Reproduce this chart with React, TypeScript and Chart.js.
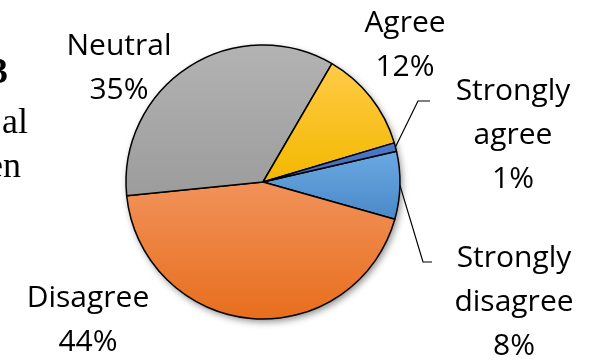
import React, { useEffect, useRef } from 'react';
import { Chart, registerables } from 'chart.js';

Chart.register(...registerables);

// ---- data ----
const categories = ['Strongly disagree', 'Disagree', 'Neutral', 'Agree', 'Strongly agree'];
const values = [8, 44, 35, 12, 1];
const labelNames = [['Strongly', 'disagree'], ['Disagree'], ['Neutral'], ['Agree'], ['Strongly', 'agree']];
const topColors = ['#6AA9E2', '#F1925A', '#B3B3B3', '#FFCB47', '#4D7ACB'];
const bottomColors = ['#4A89C8', '#E86E1D', '#9C9C9C', '#F3B800', '#3E69B8'];
const sideText = [
  { text: '3', x: 8, y: 83, bold: true },
  { text: 'al', x: 28, y: 133, bold: false },
  { text: 'en', x: 21, y: 177, bold: false },
];

// ---- layout (styling only) ----
const ROTATION = 77;
const RADIUS = 137;
const labelPos = [
  { x: 514, y: 267 },
  { x: 88, y: 307 },
  { x: 119, y: 55 },
  { x: 405, y: 32 },
  { x: 513, y: 100 },
];
const leaderElbows: Record<number, number[][]> = {
  0: [[423, 262], [432, 262]],
  4: [[418, 101], [430, 101]],
};

function sliceYExtent(i: number, cy: number, r: number) {
  const total = values.reduce((a, b) => a + b, 0);
  let before = 0;
  for (let k = 0; k < i; k++) before += values[k];
  const s = ROTATION - 90 + (before / total) * 360;
  const e = s + (values[i] / total) * 360;
  const ys = [cy, cy + r * Math.sin((s * Math.PI) / 180), cy + r * Math.sin((e * Math.PI) / 180)];
  for (let a = -720; a <= 720; a += 90) {
    if (a > s && a < e) {
      const m = ((a % 360) + 360) % 360;
      if (m === 90) ys.push(cy + r);
      if (m === 270) ys.push(cy - r);
    }
  }
  return [Math.min(...ys), Math.max(...ys)];
}

const decorPlugin = {
  id: 'decor',
  beforeDatasetsDraw(chart: any) {
    const meta = chart.getDatasetMeta(0);
    const arc = meta.data[0];
    if (!arc) return;
    const ctx = chart.ctx;
    ctx.save();
    ctx.shadowColor = 'rgba(0,0,0,0.45)';
    ctx.shadowBlur = 7;
    ctx.shadowOffsetX = 2;
    ctx.shadowOffsetY = 3;
    ctx.beginPath();
    ctx.arc(arc.x, arc.y, arc.outerRadius, 0, Math.PI * 2);
    ctx.fillStyle = '#ffffff';
    ctx.fill();
    ctx.restore();
  },
  afterDraw(chart: any) {
    const ctx = chart.ctx;
    const meta = chart.getDatasetMeta(0);
    ctx.save();
    // side text (cut-off paragraph)
    ctx.fillStyle = '#000';
    ctx.textAlign = 'right';
    ctx.textBaseline = 'alphabetic';
    sideText.forEach((t) => {
      ctx.font = `${t.bold ? 'bold ' : ''}36px "Liberation Serif", "Times New Roman", serif`;
      ctx.fillText(t.text, t.x, t.y);
    });
    // leader lines
    ctx.strokeStyle = '#000';
    ctx.lineWidth = 1.2;
    Object.keys(leaderElbows).forEach((key) => {
      const i = Number(key);
      const el = meta.data[i];
      const mid = (el.startAngle + el.endAngle) / 2;
      const px = el.x + el.outerRadius * Math.cos(mid);
      const py = el.y + el.outerRadius * Math.sin(mid);
      ctx.beginPath();
      ctx.moveTo(px, py);
      leaderElbows[i].forEach((p) => ctx.lineTo(p[0], p[1]));
      ctx.stroke();
    });
    // labels
    ctx.font = '30px "Open Sans", sans-serif';
    ctx.textAlign = 'center';
    categories.forEach((_, i) => {
      const lines = [...labelNames[i], `${values[i]}%`];
      const p = labelPos[i];
      lines.forEach((ln, j) => ctx.fillText(ln, p.x, p.y + j * 44));
    });
    ctx.restore();
  },
};

export default function App() {
  const ref = useRef<HTMLCanvasElement | null>(null);
  useEffect(() => {
    document.body.style.margin = '0';
    if (!ref.current) return;
    const chart = new Chart(ref.current, {
      type: 'pie',
      data: {
        labels: categories,
        datasets: [
          {
            data: values,
            radius: RADIUS,
            borderColor: '#000000',
            borderWidth: 1.5,
            hoverOffset: 0,
            backgroundColor: (c: any) => {
              const ch = c.chart;
              const ca = ch.chartArea;
              const i = c.dataIndex;
              if (!ca || i === undefined) return bottomColors[i ?? 0];
              const cy = (ca.top + ca.bottom) / 2;
              const [y0, y1] = sliceYExtent(i, cy, RADIUS);
              const g = ch.ctx.createLinearGradient(0, y0, 0, y1 + 0.01);
              g.addColorStop(0, topColors[i]);
              g.addColorStop(1, bottomColors[i]);
              return g;
            },
          } as any,
        ],
      },
      options: {
        responsive: false,
        animation: false,
        rotation: ROTATION,
        layout: { padding: { left: 0, right: 66, top: 1, bottom: 0 } },
        plugins: {
          legend: { display: false },
          tooltip: { enabled: false },
        },
      },
      plugins: [decorPlugin],
    });
    return () => chart.destroy();
  }, []);
  return (
    <div style={{ position: 'absolute', left: 0, top: 0, width: 592, height: 363, background: '#fff' }}>
      <canvas ref={ref} width={592} height={363} />
    </div>
  );
}
